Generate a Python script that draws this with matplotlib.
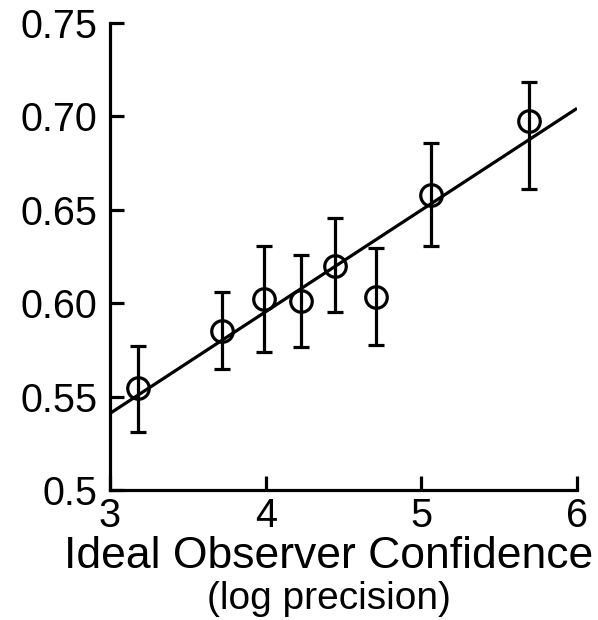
import matplotlib
matplotlib.use("Agg")
import matplotlib.pyplot as plt

plt.rcParams['font.family'] = ['Liberation Sans', 'DejaVu Sans']

# data
conf_x = [3.18, 3.72, 3.99, 4.23, 4.445, 4.71, 5.06, 5.69]
acc_y = [0.5545, 0.5853, 0.6022, 0.6013, 0.6201, 0.6035, 0.6579, 0.6975]
err_lo = [0.5312, 0.5646, 0.5740, 0.5767, 0.5951, 0.5776, 0.6306, 0.6610]
err_hi = [0.5771, 0.6062, 0.6306, 0.6258, 0.6456, 0.6294, 0.6856, 0.7184]
fit_x = [3.0, 6.0]
fit_y = [0.541, 0.7043]
x_ticks = [3, 4, 5, 6]
y_ticks = [0.5, 0.55, 0.60, 0.65, 0.70, 0.75]
y_ticklabels = ["0.5", "0.55", "0.60", "0.65", "0.70", "0.75"]

fig = plt.figure(figsize=(5.98, 6.2), dpi=100)
ax = fig.add_axes([110/598, 1-490/620, (577-110)/598, (490-23)/620])

yerr = [[a - l for a, l in zip(acc_y, err_lo)], [h - a for a, h in zip(acc_y, err_hi)]]
ax.plot(fit_x, fit_y, color='black', lw=2.3, zorder=2, solid_capstyle='butt')
ax.errorbar(conf_x, acc_y, yerr=yerr, fmt='o', mfc='none', mec='black', ms=15.5, mew=2.3,
            ecolor='black', elinewidth=2.3, capsize=6, capthick=2.3, zorder=3)

ax.set_xlim(3, 6)
ax.set_ylim(0.5, 0.75)
ax.set_xticks(x_ticks)
ax.set_xticklabels([str(t) for t in x_ticks])
ax.set_yticks(y_ticks)
ax.set_yticklabels(y_ticklabels)
for s in ['top', 'right']:
    ax.spines[s].set_visible(False)
for s in ['left', 'bottom']:
    ax.spines[s].set_linewidth(2.3)
ax.tick_params(axis='both', direction='in', length=10, width=2.3, labelsize=28.5)
ax.tick_params(axis='y', pad=9)
ax.tick_params(axis='x', pad=5)

fig.text(329/598, 1-557/620, "Ideal Observer Confidence", ha='center', va='center', fontsize=32)
fig.text(329/598, 1-599/620, "(log precision)", ha='center', va='center', fontsize=28)

fig.savefig("out.png", dpi=100)
